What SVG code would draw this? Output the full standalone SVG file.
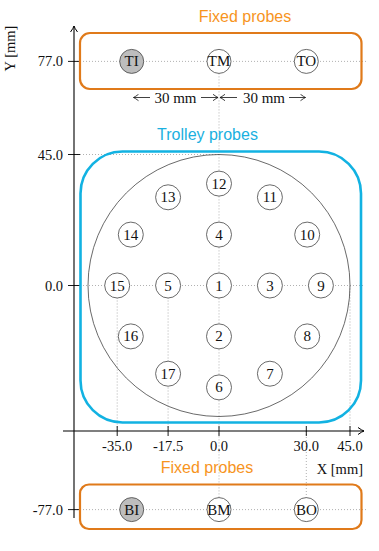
<svg xmlns="http://www.w3.org/2000/svg" width="379" height="551" viewBox="0 0 379 551">
<defs>
<style>
.grid{stroke:#a8a8a8;stroke-width:0.9;stroke-dasharray:1 2;fill:none}
.axis{stroke:#000;stroke-width:1.1;fill:none}
.probe circle{fill:#fff;stroke:#444;stroke-width:0.8}
.probe text,.lbl{font-family:"Liberation Serif","DejaVu Serif",serif;font-size:15px;fill:#111;text-anchor:middle}
.fixed circle{stroke:#444;stroke-width:0.8}
.tick{font-family:"Liberation Serif","DejaVu Serif",serif;font-size:14.5px;fill:#111}
.title{font-family:"Liberation Sans",Arial,sans-serif;font-size:16px;text-anchor:middle}
</style>
<marker id="ah" viewBox="-6 -4 7 8" markerWidth="7" markerHeight="8" refX="0" refY="0" orient="auto" markerUnits="userSpaceOnUse">
<path d="M-5,-3.2 Q-1.5,-0.6 0,0 Q-1.5,0.6 -5,3.2" fill="none" stroke="#111" stroke-width="0.8"/>
</marker>
<marker id="axah" viewBox="-7 -4 8 8" markerWidth="8" markerHeight="8" refX="0" refY="0" orient="auto" markerUnits="userSpaceOnUse">
<path d="M-6,-3.5 Q-2,-0.6 0,0 Q-2,0.6 -6,3.5" fill="none" stroke="#000" stroke-width="1"/>
</marker>
</defs>
<rect width="379" height="551" fill="#fff"/>

<g id="grid">
<line class="grid" x1="74" y1="61.4" x2="368" y2="61.4"/>
<line class="grid" x1="74" y1="154.5" x2="219" y2="154.5"/>
<line class="grid" x1="74" y1="285.5" x2="365" y2="285.5"/>
<line class="grid" x1="74" y1="509.6" x2="366" y2="509.6"/>
<line class="grid" x1="219" y1="61.4" x2="219" y2="509.6"/>
<line class="grid" x1="306.3" y1="431" x2="306.3" y2="509.6"/>
<line class="grid" x1="117.2" y1="285.5" x2="117.2" y2="431"/>
<line class="grid" x1="168.1" y1="285.5" x2="168.1" y2="431"/>
<line class="grid" x1="350" y1="285.5" x2="350" y2="431"/>
</g>

<g id="axes">
<line class="axis" x1="74" y1="518" x2="74" y2="26" marker-end="url(#axah)"/>
<line class="axis" x1="63" y1="431" x2="364" y2="431" marker-end="url(#axah)"/>
<g stroke="#000" stroke-width="0.9">
<line x1="68" y1="61.4" x2="80" y2="61.4"/>
<line x1="68" y1="154.5" x2="80" y2="154.5"/>
<line x1="68" y1="285.5" x2="80" y2="285.5"/>
<line x1="68" y1="509.6" x2="80" y2="509.6"/>
<line x1="117.2" y1="426" x2="117.2" y2="436"/>
<line x1="168.1" y1="426" x2="168.1" y2="436"/>
<line x1="219" y1="426" x2="219" y2="436"/>
<line x1="306.3" y1="426" x2="306.3" y2="436"/>
<line x1="350" y1="426" x2="350" y2="436"/>
</g>
<g class="tick" text-anchor="end">
<text x="63" y="66">77.0</text>
<text x="63" y="159.5">45.0</text>
<text x="63" y="290.5">0.0</text>
<text x="63" y="514.5">-77.0</text>
</g>
<g class="tick" text-anchor="middle">
<text x="117.2" y="451">-35.0</text>
<text x="168.1" y="451">-17.5</text>
<text x="219" y="451">0.0</text>
<text x="306.3" y="451">30.0</text>
<text x="350" y="451">45.0</text>
</g>
<text class="tick" x="363" y="474" text-anchor="end">X [mm]</text>
<text class="tick" transform="translate(14.5,48.5) rotate(-90)" text-anchor="middle">Y [mm]</text>
</g>

<g id="boxes">
<rect x="80" y="33" width="281.5" height="56" rx="10" fill="none" stroke="#e07a1a" stroke-width="2.2"/>
<text class="title" x="245" y="22" fill="#f7941d">Fixed probes</text>
<rect x="80.5" y="151.5" width="280.5" height="271" rx="42" fill="none" stroke="#12b2e2" stroke-width="2.6"/>
<text class="title" x="207.5" y="140" fill="#1ab0e0">Trolley probes</text>
<rect x="80" y="484.5" width="281.5" height="44.5" rx="9" fill="none" stroke="#e07a1a" stroke-width="2.2"/>
<text class="title" x="207" y="473" fill="#f7941d">Fixed probes</text>
<circle cx="219" cy="285.5" r="131" fill="none" stroke="#444" stroke-width="0.8"/>
</g>

<g id="spacing">
<path d="M150,97.5 H133.5" stroke="#111" stroke-width="0.8" marker-end="url(#ah)"/>
<text class="lbl" x="175.5" y="102.5">30 mm</text>
<path d="M201,97.5 H218" stroke="#111" stroke-width="0.8" marker-end="url(#ah)"/>
<path d="M237,97.5 H220" stroke="#111" stroke-width="0.8" marker-end="url(#ah)"/>
<text class="lbl" x="264" y="102.5">30 mm</text>
<path d="M289,97.5 H305.5" stroke="#111" stroke-width="0.8" marker-end="url(#ah)"/>
</g>

<g class="probe">
<g id="p1"><circle cx="219" cy="285.5" r="12.5"/><text x="219" y="290.5">1</text></g>
<g id="p2"><circle cx="219" cy="336.4" r="12.5"/><text x="219" y="341.4">2</text></g>
<g id="p3"><circle cx="269.9" cy="285.5" r="12.5"/><text x="269.9" y="290.5">3</text></g>
<g id="p4"><circle cx="219" cy="234.6" r="12.5"/><text x="219" y="239.6">4</text></g>
<g id="p5"><circle cx="168.1" cy="285.5" r="12.5"/><text x="168.1" y="290.5">5</text></g>
<g id="p6"><circle cx="219" cy="387.4" r="12.5"/><text x="219" y="392.4">6</text></g>
<g id="p7"><circle cx="269.9" cy="373.7" r="12.5"/><text x="269.9" y="378.7">7</text></g>
<g id="p8"><circle cx="307.2" cy="336.4" r="12.5"/><text x="307.2" y="341.4">8</text></g>
<g id="p9"><circle cx="320.9" cy="285.5" r="12.5"/><text x="320.9" y="290.5">9</text></g>
<g id="p10"><circle cx="307.2" cy="234.6" r="12.5"/><text x="307.2" y="239.6">10</text></g>
<g id="p11"><circle cx="269.9" cy="197.3" r="12.5"/><text x="269.9" y="202.3">11</text></g>
<g id="p12"><circle cx="219" cy="183.6" r="12.5"/><text x="219" y="188.6">12</text></g>
<g id="p13"><circle cx="168.1" cy="197.3" r="12.5"/><text x="168.1" y="202.3">13</text></g>
<g id="p14"><circle cx="130.8" cy="234.6" r="12.5"/><text x="130.8" y="239.6">14</text></g>
<g id="p15"><circle cx="117.2" cy="285.5" r="12.5"/><text x="117.2" y="290.5">15</text></g>
<g id="p16"><circle cx="130.8" cy="336.4" r="12.5"/><text x="130.8" y="341.4">16</text></g>
<g id="p17"><circle cx="168.1" cy="373.7" r="12.5"/><text x="168.1" y="378.7">17</text></g>
</g>

<g class="probe fixed">
<g id="TI"><circle cx="131.7" cy="61.4" r="12" style="fill:#bdbdbd"/><text x="131.7" y="66.4">TI</text></g>
<g id="TM"><circle cx="219" cy="61.4" r="12"/><text x="219" y="66.4">TM</text></g>
<g id="TO"><circle cx="306.3" cy="61.4" r="12"/><text x="306.3" y="66.4">TO</text></g>
<g id="BI"><circle cx="131.7" cy="509.6" r="12" style="fill:#bdbdbd"/><text x="131.7" y="514.6">BI</text></g>
<g id="BM"><circle cx="219" cy="509.6" r="12"/><text x="219" y="514.6">BM</text></g>
<g id="BO"><circle cx="306.3" cy="509.6" r="12"/><text x="306.3" y="514.6">BO</text></g>
</g>
</svg>
